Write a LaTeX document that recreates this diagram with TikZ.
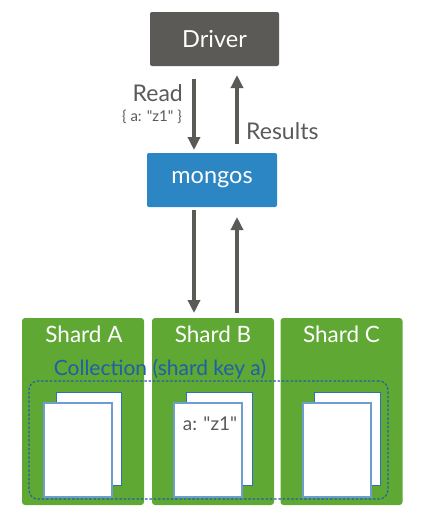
\documentclass[tikz,border=0pt]{standalone}
\usepackage{fontspec}
\defaultfontfeatures[\rmfamily]{}
\setmainfont{Lato}
\usetikzlibrary{arrows.meta}
\definecolor{drvgray}{HTML}{5B5A56}
\definecolor{mblue}{HTML}{2B86C3}
\definecolor{sgreen}{HTML}{5EA833}
\definecolor{txtgray}{HTML}{5A5A5A}
\definecolor{colblue}{HTML}{1F5FAA}
\definecolor{pageback}{HTML}{2F6FB6}
\definecolor{pagefront}{HTML}{6E9DCF}
\tikzset{
  boxnode/.style={rounded corners=2pt, minimum width=129pt, minimum height=54pt, text=white, font=\fontsize{23.5}{26}\selectfont, inner sep=0pt},
  shardbox/.style={fill=sgreen, rounded corners=3pt, minimum width=122pt, minimum height=187pt, inner sep=0pt},
  shardlabel/.style={text=white, font=\fontsize{22.5}{26}\selectfont, inner sep=0pt},
  flow/.style={draw=drvgray, line width=3.6pt, -{Triangle[width=12pt,length=13pt]}},
  lbl/.style={text=txtgray, font=\fontsize{23}{26}\selectfont, inner sep=0pt},
  backpage/.style={fill=white, draw=pageback, line width=1pt},
  frontpage/.style={fill=white, draw=pagefront, line width=1.4pt},
}
\begin{document}
\begin{tikzpicture}[x=1pt,y=-1pt]
\useasboundingbox (0,0) rectangle (432,517);
% top boxes
\node[boxnode, fill=drvgray] (driver) at (214.5,39) {Driver};
\node[boxnode, fill=mblue, minimum width=130pt] (mongos) at (212,180) {mongos};
% shards
\node[shardbox] (shA) at (83,411.5) {};
\node[shardbox] (shB) at (213,411.5) {};
\node[shardbox] (shC) at (341.5,411.5) {};
\node[shardlabel] (lA) at (84,334) {Shard A};
\node[shardlabel] (lB) at (213,334) {Shard B};
\node[shardlabel] (lC) at (341.5,334) {Shard C};
% collection
\node[text=colblue, font=\fontsize{21}{24}\selectfont, inner sep=0pt] (coll) at (160,369) {Collection (shard key a)};
\node[draw=colblue, dashed, dash pattern=on 2.5pt off 1.8pt, line width=1.1pt, rounded corners=9pt, minimum width=359pt, minimum height=118pt, inner sep=0pt] (collbox) at (208.5,440) {};
% pages
\node[backpage, minimum width=65pt, minimum height=93pt, inner sep=0pt] (pA1) at (88.5,438.5) {};
\node[frontpage, minimum width=68pt, minimum height=94pt, inner sep=0pt] (pA2) at (78,450) {};
\node[backpage, minimum width=66pt, minimum height=93pt, inner sep=0pt] (pB1) at (219,438.5) {};
\node[frontpage, minimum width=68pt, minimum height=94pt, inner sep=0pt] (pB2) at (208,450) {};
\node[backpage, minimum width=66pt, minimum height=93pt, inner sep=0pt] (pC1) at (347,438.5) {};
\node[frontpage, minimum width=68pt, minimum height=94pt, inner sep=0pt] (pC2) at (337,450) {};
\node[text=txtgray, font=\fontsize{19}{22}\selectfont, inner sep=0pt] (doc) at (210,424) {a: "z1"};
% arrow endpoints
\coordinate (d1) at (194,79);
\coordinate (m1) at (194,150);
\coordinate (m2) at (237,144);
\coordinate (d2) at (237,75);
\coordinate (m3) at (194,210);
\coordinate (s1) at (194,313);
\coordinate (s2) at (237,313);
\coordinate (m4) at (237,217);
\draw[flow] (d1) -- (m1);
\draw[flow] (m2) -- (d2);
\draw[flow] (m3) -- (s1);
\draw[flow] (s2) -- (m4);
% labels
\node[lbl, anchor=east] (read) at (183,93) {Read};
\node[text=txtgray, font=\fontsize{15}{18}\selectfont, inner sep=0pt, anchor=east] (query) at (182,117) {\{ a: "z1" \}};
\node[lbl, anchor=west] (res) at (246,131) {Results};
\end{tikzpicture}
\end{document}
